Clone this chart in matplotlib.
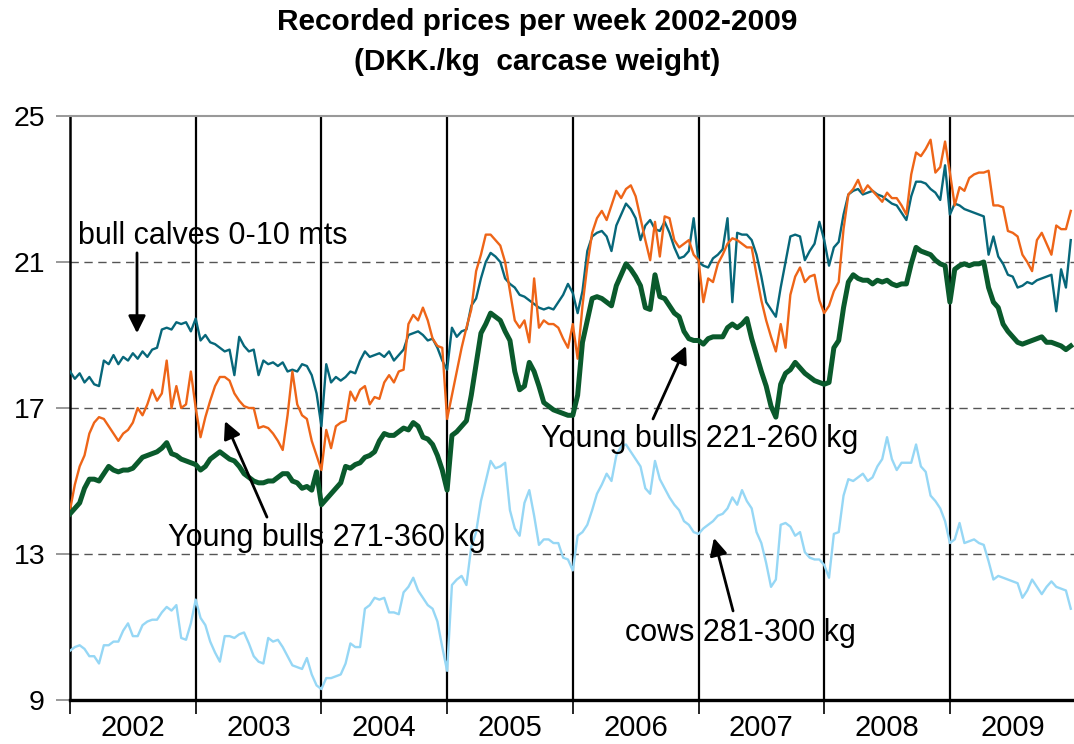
import numpy as np
import matplotlib
matplotlib.use("Agg")
import matplotlib.pyplot as plt

plt.rcParams['font.family'] = ['Liberation Sans', 'DejaVu Sans']

# ---- data: DKK/kg carcase weight, sampled every second week, 26 values per year ----
years = [2002, 2003, 2004, 2005, 2006, 2007, 2008, 2009]
year_labels = ["2002", "2003", "2004", "2005", "2006", "2007", "2008", "2009"]
points_per_year = 26

bull_calves = [
    18.0, 17.8, 17.95, 17.7, 17.85, 17.65, 17.6, 18.3, 18.2, 18.45, 18.2, 18.4, 18.3, 18.5, 18.35, 18.55, 18.4, 18.6, 18.65, 19.15, 19.2, 19.15, 19.35, 19.3, 19.35, 19.1,
    19.45, 18.85, 19.0, 18.8, 18.75, 18.65, 18.55, 18.6, 17.9, 18.95, 18.7, 18.55, 18.6, 17.9, 18.3, 18.2, 18.25, 18.15, 18.25, 18.0, 18.05, 18.0, 18.2, 18.15, 17.9, 17.4,
    16.5, 18.2, 17.7, 17.85, 17.75, 17.85, 18.0, 17.95, 18.3, 18.55, 18.4, 18.45, 18.5, 18.4, 18.55, 18.3, 18.45, 18.6, 19.0, 19.05, 19.1, 19.0, 18.85, 18.9, 18.65, 18.3,
    18.05, 19.2, 18.95, 19.1, 19.15, 19.8, 20.0, 20.55, 21.0, 21.25, 21.15, 21.0, 20.55, 20.4, 20.3, 20.1, 20.05, 19.95, 19.85, 19.75, 19.7, 19.75, 19.7, 19.9, 20.1, 20.4,
    20.15, 19.6, 20.2, 21.3, 21.7, 21.8, 21.85, 21.7, 21.3, 22.0, 22.3, 22.6, 22.45, 22.2, 21.6, 22.0, 22.15, 21.9, 21.85, 22.1, 21.8, 21.4, 21.1, 21.15, 21.3, 22.2,
    21.0, 20.9, 20.85, 21.1, 21.2, 21.35, 22.2, 19.9, 21.8, 21.75, 21.75, 21.6, 21.2, 20.6, 19.9, 19.7, 19.5, 20.3, 21.0, 21.7, 21.75, 21.7, 21.05, 21.3, 21.5, 22.1,
    21.6, 20.9, 21.4, 21.55, 22.3, 22.85, 22.95, 23.0, 22.85, 22.9, 22.95, 22.85, 22.8, 22.7, 22.6, 22.55, 22.35, 22.15, 22.8, 23.2, 23.2, 23.15, 23.0, 22.9, 22.7, 23.65,
    22.3, 22.6, 22.55, 22.45, 22.4, 22.35, 22.3, 22.25, 21.2, 21.7, 21.15, 20.95, 20.65, 20.6, 20.3, 20.35, 20.45, 20.4, 20.5, 20.55, 20.6, 20.65, 19.65, 20.8, 20.3, 21.6,
]

young_bulls_271_360 = [
    14.2, 14.9, 15.4, 15.7, 16.3, 16.6, 16.75, 16.7, 16.5, 16.3, 16.1, 16.3, 16.4, 16.6, 17.0, 16.8, 17.1, 17.5, 17.2, 17.4, 18.3, 17.0, 17.6, 17.0, 17.1, 18.0,
    17.0, 16.2, 16.75, 17.2, 17.6, 17.85, 17.85, 17.75, 17.4, 17.2, 17.05, 17.0, 17.0, 16.45, 16.5, 16.45, 16.3, 16.1, 15.85, 16.8, 18.0, 17.1, 16.8, 16.7, 16.1, 15.7,
    15.3, 16.4, 15.9, 16.5, 16.6, 16.65, 17.45, 17.2, 17.5, 17.6, 17.1, 17.3, 17.25, 17.7, 17.9, 17.7, 18.0, 18.05, 19.3, 19.55, 19.4, 19.75, 19.4, 18.9, 18.7, 18.65,
    16.7, 17.35, 18.0, 18.65, 19.2, 19.7, 20.75, 21.2, 21.75, 21.75, 21.6, 21.45, 21.0, 20.2, 19.4, 19.2, 19.4, 18.8, 20.55, 19.2, 19.4, 19.3, 19.3, 19.2, 18.9, 18.65,
    19.3, 18.35, 19.8, 20.9, 21.8, 22.2, 22.4, 22.15, 22.55, 22.95, 22.75, 23.0, 23.1, 22.8, 22.2, 21.6, 21.05, 22.1, 21.15, 22.25, 22.2, 21.6, 21.4, 21.5, 21.6, 21.2,
    21.05, 19.9, 20.55, 20.45, 20.95, 21.2, 21.5, 21.65, 21.6, 21.5, 21.4, 21.4, 20.65, 19.95, 19.4, 18.95, 18.55, 19.3, 18.65, 20.1, 20.6, 20.85, 20.45, 20.6, 20.65, 19.95,
    19.6, 19.8, 20.2, 20.45, 21.9, 22.85, 23.0, 23.25, 22.9, 23.1, 22.95, 22.8, 22.65, 22.9, 22.75, 22.75, 22.55, 22.3, 23.4, 24.0, 23.9, 24.1, 24.35, 23.45, 23.6, 24.3,
    23.45, 22.55, 23.05, 22.95, 23.3, 23.4, 23.45, 23.45, 23.5, 22.55, 22.55, 22.5, 21.85, 21.8, 21.7, 21.2, 21.0, 20.75, 21.6, 21.8, 21.5, 21.2, 22.0, 21.9, 21.9, 22.4,
]

young_bulls_221_260 = [
    14.1, 14.25, 14.4, 14.8, 15.05, 15.05, 15.0, 15.2, 15.4, 15.3, 15.25, 15.3, 15.3, 15.35, 15.5, 15.65, 15.7, 15.75, 15.8, 15.9, 16.05, 15.75, 15.7, 15.6, 15.55, 15.5,
    15.45, 15.3, 15.4, 15.6, 15.7, 15.8, 15.7, 15.6, 15.55, 15.4, 15.2, 15.1, 15.0, 14.95, 14.95, 15.0, 15.0, 15.1, 15.2, 15.2, 15.0, 14.95, 14.8, 14.85, 14.75, 15.25,
    14.35, 14.5, 14.65, 14.8, 14.95, 15.4, 15.35, 15.45, 15.5, 15.65, 15.7, 15.8, 16.1, 16.3, 16.25, 16.25, 16.35, 16.45, 16.4, 16.6, 16.5, 16.2, 16.15, 16.0, 15.7, 15.3,
    14.75, 16.25, 16.35, 16.5, 16.65, 17.35, 18.2, 19.05, 19.3, 19.6, 19.5, 19.4, 19.1, 18.85, 18.0, 17.5, 17.6, 18.25, 18.0, 17.6, 17.15, 17.05, 16.95, 16.9, 16.85, 16.8,
    16.8, 17.35, 18.8, 19.4, 20.0, 20.05, 20.0, 19.9, 19.8, 20.35, 20.65, 20.95, 20.8, 20.6, 20.35, 19.75, 19.7, 20.65, 20.05, 20.0, 19.8, 19.6, 19.5, 19.1, 18.9, 18.85,
    18.85, 18.75, 18.9, 18.95, 18.95, 18.95, 19.2, 19.3, 19.2, 19.3, 19.45, 18.9, 18.45, 18.0, 17.6, 17.05, 16.75, 17.65, 17.95, 18.05, 18.25, 18.1, 17.95, 17.85, 17.75, 17.7,
    17.65, 17.7, 18.65, 18.85, 19.75, 20.45, 20.65, 20.55, 20.5, 20.5, 20.4, 20.5, 20.45, 20.5, 20.4, 20.35, 20.4, 20.4, 20.95, 21.4, 21.3, 21.25, 21.2, 21.05, 20.95, 20.9,
    19.9, 20.8, 20.9, 20.95, 20.9, 20.95, 20.95, 21.0, 20.3, 19.9, 19.75, 19.3, 19.1, 18.95, 18.8, 18.75, 18.8, 18.85, 18.9, 18.95, 18.8, 18.8, 18.75, 18.7, 18.6, 18.7,
]

cows_281_300 = [
    10.35, 10.45, 10.5, 10.4, 10.2, 10.2, 10.0, 10.5, 10.5, 10.6, 10.6, 10.9, 11.1, 10.75, 10.75, 11.05, 11.15, 11.2, 11.2, 11.4, 11.55, 11.45, 11.6, 10.7, 10.65, 11.1,
    11.75, 11.25, 11.05, 10.6, 10.3, 10.05, 10.75, 10.75, 10.7, 10.8, 10.85, 10.55, 10.2, 10.05, 10.0, 10.7, 10.6, 10.65, 10.45, 10.2, 9.95, 9.9, 9.85, 10.15, 9.7, 9.4,
    9.3, 9.6, 9.6, 9.65, 9.7, 10.0, 10.55, 10.45, 10.45, 11.5, 11.6, 11.8, 11.75, 11.8, 11.4, 11.4, 11.35, 11.95, 12.1, 12.35, 12.0, 11.8, 11.6, 11.5, 11.15, 10.45,
    9.8, 12.15, 12.3, 12.4, 12.15, 13.2, 13.6, 14.45, 15.0, 15.55, 15.35, 15.4, 15.5, 14.2, 13.7, 13.5, 14.4, 14.75, 14.05, 13.25, 13.4, 13.4, 13.3, 13.3, 12.9, 12.85,
    12.55, 13.5, 13.6, 13.8, 14.2, 14.65, 14.9, 15.2, 15.0, 15.7, 15.95, 16.0, 15.8, 15.6, 15.4, 14.8, 14.65, 15.55, 15.05, 14.8, 14.55, 14.35, 14.2, 13.9, 13.8, 13.6,
    13.55, 13.7, 13.8, 13.9, 14.05, 14.1, 14.25, 14.55, 14.35, 14.75, 14.45, 14.25, 13.6, 13.3, 12.75, 12.1, 12.3, 13.8, 13.85, 13.75, 13.5, 13.6, 13.05, 12.9, 12.85, 12.85,
    12.7, 12.35, 13.55, 13.6, 14.6, 15.05, 15.0, 15.1, 15.2, 15.0, 15.1, 15.4, 15.6, 16.2, 15.6, 15.3, 15.5, 15.5, 15.5, 16.0, 15.4, 15.25, 14.6, 14.45, 14.25, 13.9,
    13.3, 13.4, 13.85, 13.3, 13.35, 13.4, 13.3, 13.25, 12.8, 12.3, 12.4, 12.35, 12.3, 12.25, 12.2, 11.8, 12.0, 12.3, 12.1, 11.9, 12.1, 12.25, 12.1, 12.05, 12.0, 11.5,
]

y_ticks = [9, 13, 17, 21, 25]
grid_levels = [13, 17, 21]

n = len(years) * points_per_year
for s in (bull_calves, young_bulls_271_360, young_bulls_221_260, cows_281_300):
    assert len(s) == n, len(s)

x = years[0] + np.arange(n) / points_per_year

# ---- figure ----
W, H = 1074, 744
fig = plt.figure(figsize=(W / 100, H / 100), dpi=100)
ax = fig.add_axes([70 / W, 1 - 700 / H, 1004 / W, 584 / H])

for lvl in grid_levels:
    ax.axhline(lvl, color='#555555', lw=1.0, ls=(0, (6, 4)), zorder=1)
for yr in years[1:]:
    ax.axvline(yr, color='black', lw=1.6, zorder=1)

ax.plot(x, cows_281_300, color='#96D7F5', lw=1.7, zorder=3)
ax.plot(x, bull_calves, color='#07677A', lw=1.7, zorder=3)
ax.plot(x, young_bulls_271_360, color='#EE6518', lw=1.7, zorder=4)
ax.plot(x, young_bulls_221_260, color='#0A5A2C', lw=3.6, zorder=5)

ax.set_xlim(years[0], years[0] + 1004 / 125.7)
ax.set_ylim(y_ticks[0], y_ticks[-1])

ax.set_yticks(y_ticks)
ax.set_yticklabels([str(t) for t in y_ticks])
ax.tick_params(axis='y', direction='out', length=10, width=1.2, color='#888888',
               labelsize=20.5, pad=8)

ax.set_xticks(years)
ax.set_xticklabels([])
ax.tick_params(axis='x', which='major', direction='out', length=10, width=1.2, color='black')
ax.set_xticks([y + 0.5 for y in years], minor=True)
ax.set_xticklabels(year_labels, minor=True)
ax.tick_params(axis='x', which='minor', length=0, labelsize=21, pad=10)

ax.spines['left'].set_linewidth(1.8)
ax.spines['bottom'].set_linewidth(2.4)
ax.spines['top'].set_color('#999999')
ax.spines['top'].set_linewidth(1.5)
ax.spines['right'].set_visible(False)

fig.text(0.5, 1 - 22 / H, "Recorded prices per week 2002-2009", ha='center', va='center',
         fontsize=21.5, fontweight='bold')
fig.text(0.5, 1 - 62 / H, "(DKK./kg  carcase weight)", ha='center', va='center',
         fontsize=21.5, fontweight='bold')

arrow = dict(arrowstyle='-|>', color='black', lw=2, mutation_scale=26, shrinkA=0, shrinkB=0)
fs = 22
ax.text(2002.064, 21.71, "bull calves 0-10 mts", fontsize=fs, va='center', ha='left', zorder=6)
ax.annotate("", xy=(2002.533, 19.05), xytext=(2002.533, 21.25), arrowprops=arrow, zorder=6)

ax.text(2002.78, 13.45, "Young bulls 271-360 kg", fontsize=fs, va='center', ha='left', zorder=6)
ax.annotate("", xy=(2003.233, 16.64), xytext=(2003.567, 14.01), arrowprops=arrow, zorder=6)

ax.text(2005.747, 16.15, "Young bulls 221-260 kg", fontsize=fs, va='center', ha='left', zorder=6)
ax.annotate("", xy=(2006.901, 18.70), xytext=(2006.638, 16.70), arrowprops=arrow, zorder=6)

ax.text(2006.415, 10.83, "cows 281-300 kg", fontsize=fs, va='center', ha='left', zorder=6)
ax.annotate("", xy=(2007.123, 13.44), xytext=(2007.275, 11.44), arrowprops=arrow, zorder=6)

fig.savefig("out.png", dpi=100)
